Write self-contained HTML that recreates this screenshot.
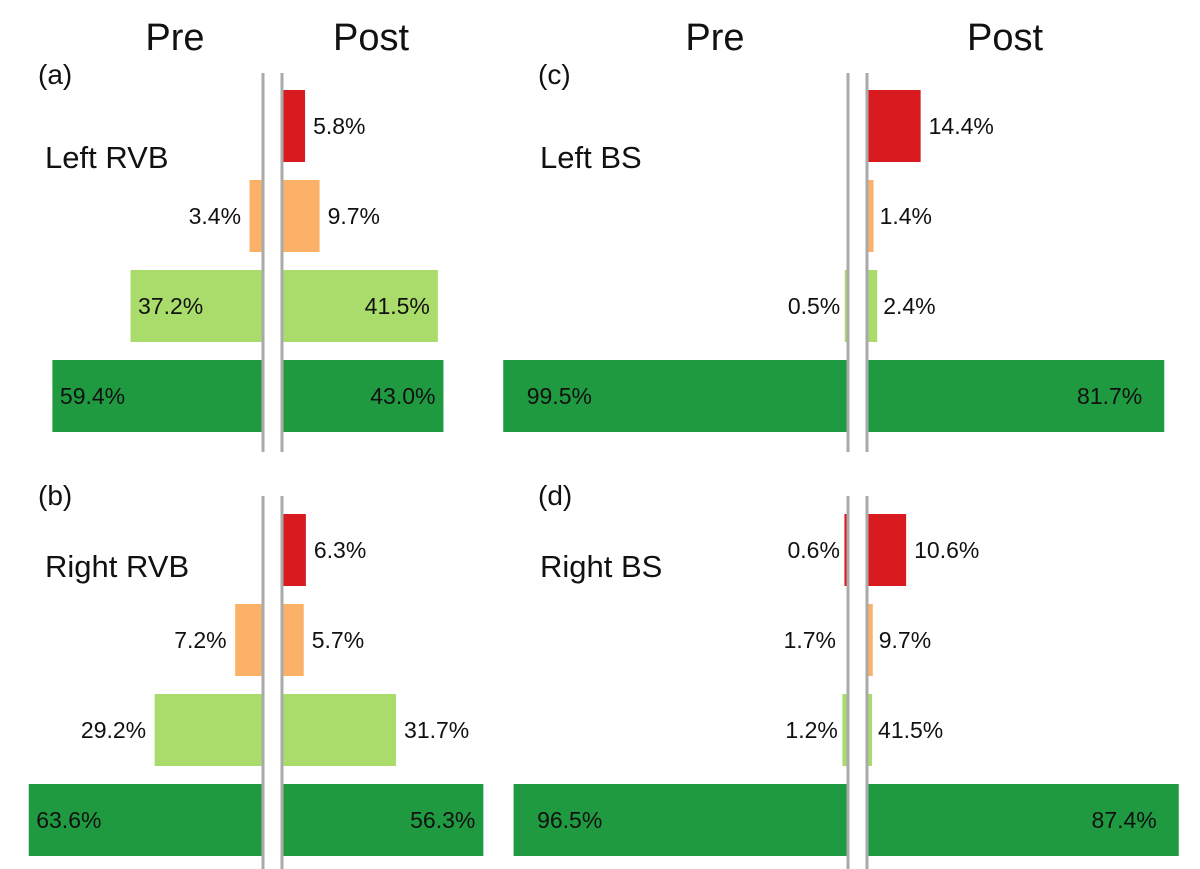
<!DOCTYPE html>
<html><head><meta charset="utf-8"><style>
body{margin:0;background:#fff}
svg{display:block;font-family:"Liberation Sans",Arial,sans-serif}
</style></head><body>
<svg id="c" width="1200" height="869"></svg>
<script>
const categories = ["red","orange","light-green","dark-green"];
const colors = ["#d91a1f","#fbb168","#a9dc6a","#1f9a40"];
const preA = [0, 3.4, 37.2, 59.4];
const postA = [5.8, 9.7, 41.5, 43.0];
const preB = [0, 7.2, 29.2, 63.6];
const postB = [6.3, 5.7, 31.7, 56.3];
const preC = [0, 0, 0.5, 99.5];
const postC = [14.4, 1.4, 2.4, 81.7];
const preD = [0.6, 0, 1.2, 96.5];
const postD = [10.6, 1.2, 1.0, 87.4];
const labelsPreD = ["0.6%","1.7%","1.2%","96.5%"];
const labelsPostD = ["10.6%","9.7%","41.5%","87.4%"];

const NS="http://www.w3.org/2000/svg";
const svg=document.getElementById('c');
function mk(tag,attrs,parent){const e=document.createElementNS(NS,tag);for(const k in attrs)e.setAttribute(k,attrs[k]);(parent||svg).appendChild(e);return e;}
function txt(x,y,s,size,anchor,name){const t=mk('text',{x:x,y:y,'font-size':size,'text-anchor':anchor||'start',fill:'#111'});t.textContent=s;


return t;}

const panels=[
 {id:'a',pre:preA,post:postA,cx:263,top:90,pitch:90,ls:3.52,rs:3.72,lineTop:73,lineBot:452,title:'Left RVB',tx:45,ty:168,lx:38,ly:84,
  preIn:[0,0,1,1],postIn:[0,0,1,1]},
 {id:'b',pre:preB,post:postB,cx:263,top:514,pitch:90,ls:3.66,rs:3.55,lineTop:496,lineBot:869,title:'Right RVB',tx:45,ty:577,lx:38,ly:505,
  preIn:[0,0,0,1],postIn:[0,0,0,1]},
 {id:'c',pre:preC,post:postC,cx:848,top:90,pitch:90,ls:3.45,rs:3.62,lineTop:73,lineBot:452,title:'Left BS',tx:540,ty:168,lx:538,ly:84,
  preIn:[0,0,0,1],postIn:[0,0,0,1]},
 {id:'d',pre:preD,post:postD,cx:848,top:514,pitch:90,ls:3.45,rs:3.55,lineTop:496,lineBot:869,title:'Right BS',tx:540,ty:577,lx:538,ly:505,
  preIn:[0,0,0,1],postIn:[0,0,0,1],preLab:labelsPreD,postLab:labelsPostD}
];
const H=72, gap=19;
panels.forEach(p=>{
  const g=mk('g',{});
  
  
  [p.cx, p.cx+gap].forEach((x,i)=>{
    const l=mk('rect',{x:x-1.5,y:p.lineTop,width:3,height:p.lineBot-p.lineTop,fill:'#aaa'},g);
    
    
  });
  categories.forEach((c,i)=>{
    const y=p.top+i*p.pitch, cy=y+H/2+8;
    const pv=p.pre[i], qv=p.post[i];
    const pl=p.preLab?p.preLab[i]:pv.toFixed(1)+'%';
    const ql=p.postLab?p.postLab[i]:qv.toFixed(1)+'%';
    if(pv>0){
      const w=pv*p.ls;
      const r=mk('rect',{x:p.cx-1.5-w,y:y,width:w,height:H,fill:colors[i]},g);
      
      
      if(p.preIn[i]) g.appendChild(txt(p.cx-w+(w>300?22:6),cy,pl,23,'start','label-pre-'+c));
      else g.appendChild(txt(p.cx-w-(w<10?6:10),cy,pl,23,'end','label-pre-'+c));
    } else if(p.preLab && p.preLab[i]){
      g.appendChild(txt(p.cx-12,cy,pl,23,'end','label-pre-'+c));
    }
    const x0=p.cx+gap+1.5;
    if(qv>0){
      const w=qv*p.rs;
      const r=mk('rect',{x:x0,y:y,width:w,height:H,fill:colors[i]},g);
      
      
      if(p.postIn[i]) g.appendChild(txt(x0+w-(w>250?22:8),cy,ql,23,'end','label-post-'+c));
      else g.appendChild(txt(x0+w+(w<10?6:8),cy,ql,23,'start','label-post-'+c));
    }
  });
  g.appendChild(txt(p.lx,p.ly,'('+p.id+')',28,'start','panel-letter-'+p.id));
  g.appendChild(txt(p.tx,p.ty,p.title,31,'start','panel-title-'+p.id));
});
txt(175,50,'Pre',38,'middle','header-pre-left');
txt(371,50,'Post',38,'middle','header-post-left');
txt(715,50,'Pre',38,'middle','header-pre-right');
txt(1005,50,'Post',38,'middle','header-post-right');
</script>
</body></html>
